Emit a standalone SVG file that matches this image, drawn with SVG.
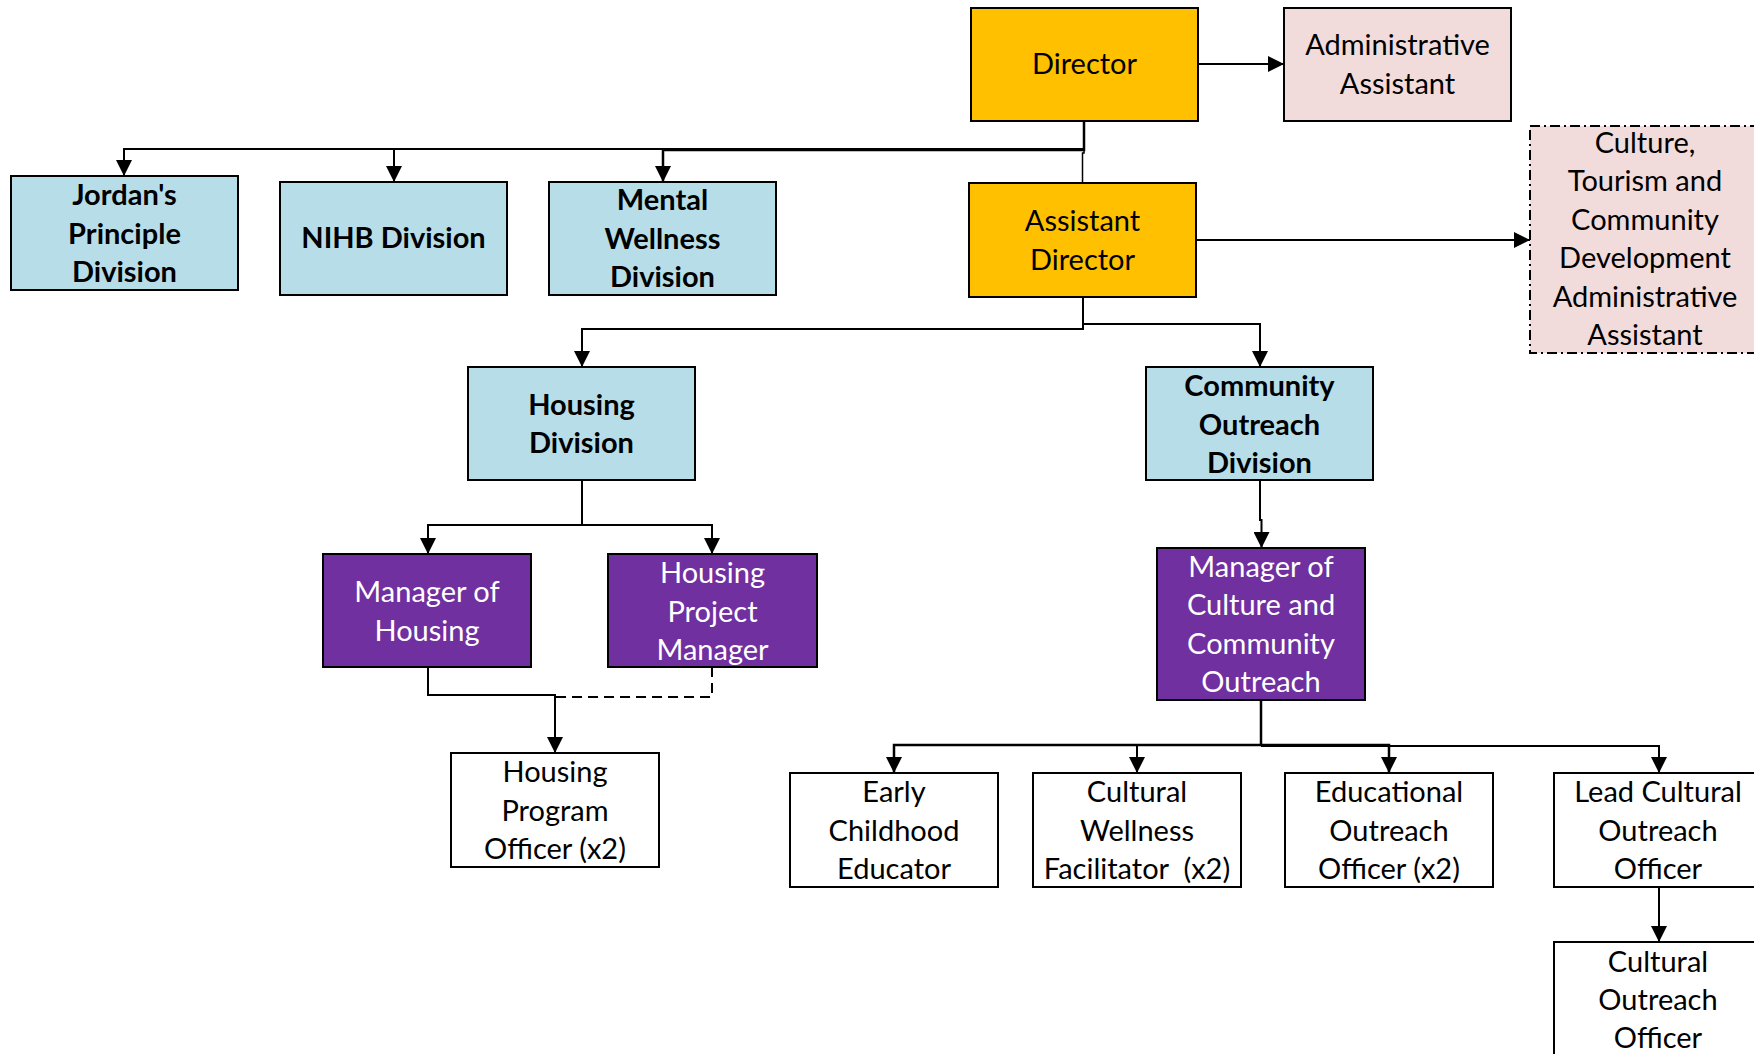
<svg xmlns="http://www.w3.org/2000/svg" width="1754" height="1054" viewBox="0 0 1754 1054">
<style>
  .box{stroke:#000;stroke-width:2}
  .gold{fill:#FFC000}
  .pink{fill:#F2DCDB}
  .blue{fill:#B7DEE8}
  .purple{fill:#7030A0}
  .white{fill:#FFFFFF}
  text{font-family:Lato,"Liberation Sans",sans-serif;font-size:29px;text-anchor:middle;fill:#000}
  .b{font-weight:bold}
  .w{fill:#FFFFFF}
  .c{fill:none;stroke:#000;stroke-width:2}
  .dash{stroke-dasharray:10,6}
</style>
<defs>
  <marker id="ah" markerUnits="userSpaceOnUse" markerWidth="16" markerHeight="16" refX="16" refY="8" orient="auto" viewBox="0 0 16 16">
    <path d="M0,0 L16,8 L0,16 z" fill="#000"/>
  </marker>
</defs>
<rect width="1754" height="1054" fill="#FFFFFF"/>

<g id="connectors">
  <path class="c" d="M1198,64 H1284" marker-end="url(#ah)"/>
  <path class="c" d="M1084,121 V149 H124 V176" marker-end="url(#ah)"/>
  <path class="c" d="M1084,121 V149 H394 V182" marker-end="url(#ah)"/>
  <path class="c" style="stroke-width:2.5" d="M1084,121 V150 H663 V182" marker-end="url(#ah)"/>
  <path class="c" style="stroke-width:1.5" d="M1084,150 V153 H1082.5 V183"/>
  <path class="c" d="M1196,240 H1530" marker-end="url(#ah)"/>
  <path class="c" d="M1083,297 V329 H582 V367" marker-end="url(#ah)"/>
  <path class="c" d="M1083,297 V324 H1260 V367" marker-end="url(#ah)"/>
  <path class="c" d="M582,480 V525 H428 V554" marker-end="url(#ah)"/>
  <path class="c" d="M582,480 V525 H712 V554" marker-end="url(#ah)"/>
  <path class="c" d="M428,667 V695 H555 V753" marker-end="url(#ah)"/>
  <path class="c dash" d="M712,667 V697 H555"/>
  <path class="c" d="M1260,480 V520 H1261.5 V548" marker-end="url(#ah)"/>
  <path class="c" style="stroke-width:2.5" d="M1261,700 V745 H894 V773" marker-end="url(#ah)"/>
  <path class="c" d="M1261,745 H1137 V773" marker-end="url(#ah)"/>
  <path class="c" style="stroke-width:2.5" d="M1261,745 H1389 V773" marker-end="url(#ah)"/>
  <path class="c" d="M1261,746 H1659 V773" marker-end="url(#ah)"/>
  <path class="c" d="M1659,887 V942" marker-end="url(#ah)"/>
</g>

<g id="director">
  <rect class="box gold" x="971" y="8" width="227" height="113"/>
  <text x="1084.5" y="74">Director</text>
</g>
<g id="admin-assistant">
  <rect class="box pink" x="1284" y="8" width="227" height="113"/>
  <text x="1397.5" y="55">Administrative</text>
  <text x="1397.5" y="94">Assistant</text>
</g>
<g id="jordans-principle">
  <rect class="box blue" x="11" y="176" width="227" height="114"/>
  <text class="b" x="124.5" y="205">Jordan's</text>
  <text class="b" x="124.5" y="243.5">Principle</text>
  <text class="b" x="124.5" y="282">Division</text>
</g>
<g id="nihb">
  <rect class="box blue" x="280" y="182" width="227" height="113"/>
  <text class="b" x="393.5" y="248">NIHB Division</text>
</g>
<g id="mental-wellness">
  <rect class="box blue" x="549" y="182" width="227" height="113"/>
  <text class="b" x="662.5" y="210">Mental</text>
  <text class="b" x="662.5" y="248.5">Wellness</text>
  <text class="b" x="662.5" y="287">Division</text>
</g>
<g id="assistant-director">
  <rect class="box gold" x="969" y="183" width="227" height="114"/>
  <text x="1082.5" y="231">Assistant</text>
  <text x="1082.5" y="270">Director</text>
</g>
<g id="culture-admin">
  <rect class="box pink" x="1530" y="126" width="240" height="227" style="stroke-dasharray:10,4,2,4"/>
  <text x="1645" y="152.5">Culture,</text>
  <text x="1645" y="191">Tourism and</text>
  <text x="1645" y="229.5">Community</text>
  <text x="1645" y="268">Development</text>
  <text x="1645" y="306.5">Administrative</text>
  <text x="1645" y="345">Assistant</text>
</g>
<g id="housing-division">
  <rect class="box blue" x="468" y="367" width="227" height="113"/>
  <text class="b" x="581.5" y="415">Housing</text>
  <text class="b" x="581.5" y="453">Division</text>
</g>
<g id="community-outreach-division">
  <rect class="box blue" x="1146" y="367" width="227" height="113"/>
  <text class="b" x="1259.5" y="396">Community</text>
  <text class="b" x="1259.5" y="434.5">Outreach</text>
  <text class="b" x="1259.5" y="473">Division</text>
</g>
<g id="manager-housing">
  <rect class="box purple" x="323" y="554" width="208" height="113"/>
  <text class="w" x="427" y="602">Manager of</text>
  <text class="w" x="427" y="641">Housing</text>
</g>
<g id="housing-project-manager">
  <rect class="box purple" x="608" y="554" width="209" height="113"/>
  <text class="w" x="712.5" y="583">Housing</text>
  <text class="w" x="712.5" y="621.5">Project</text>
  <text class="w" x="712.5" y="660">Manager</text>
</g>
<g id="manager-culture">
  <rect class="box purple" x="1157" y="548" width="208" height="152"/>
  <text class="w" x="1261" y="577">Manager of</text>
  <text class="w" x="1261" y="615">Culture and</text>
  <text class="w" x="1261" y="654">Community</text>
  <text class="w" x="1261" y="692">Outreach</text>
</g>
<g id="housing-program-officer">
  <rect class="box white" x="451" y="753" width="208" height="114"/>
  <text x="555" y="782">Housing</text>
  <text x="555" y="821">Program</text>
  <text x="555" y="859">Officer (x2)</text>
</g>
<g id="early-childhood">
  <rect class="box white" x="790" y="773" width="208" height="114"/>
  <text x="894" y="802">Early</text>
  <text x="894" y="840.5">Childhood</text>
  <text x="894" y="879">Educator</text>
</g>
<g id="cultural-wellness">
  <rect class="box white" x="1033" y="773" width="208" height="114"/>
  <text x="1137" y="802">Cultural</text>
  <text x="1137" y="840.5">Wellness</text>
  <text x="1137" y="879" xml:space="preserve">Facilitator  (x2)</text>
</g>
<g id="educational-outreach">
  <rect class="box white" x="1285" y="773" width="208" height="114"/>
  <text x="1389" y="802">Educational</text>
  <text x="1389" y="840.5">Outreach</text>
  <text x="1389" y="879">Officer (x2)</text>
</g>
<g id="lead-cultural">
  <rect class="box white" x="1554" y="773" width="208" height="114"/>
  <text x="1658" y="802">Lead Cultural</text>
  <text x="1658" y="840.5">Outreach</text>
  <text x="1658" y="879">Officer</text>
</g>
<g id="cultural-outreach">
  <rect class="box white" x="1554" y="942" width="208" height="130"/>
  <text x="1658" y="972">Cultural</text>
  <text x="1658" y="1010">Outreach</text>
  <text x="1658" y="1048">Officer</text>
</g>
</svg>
